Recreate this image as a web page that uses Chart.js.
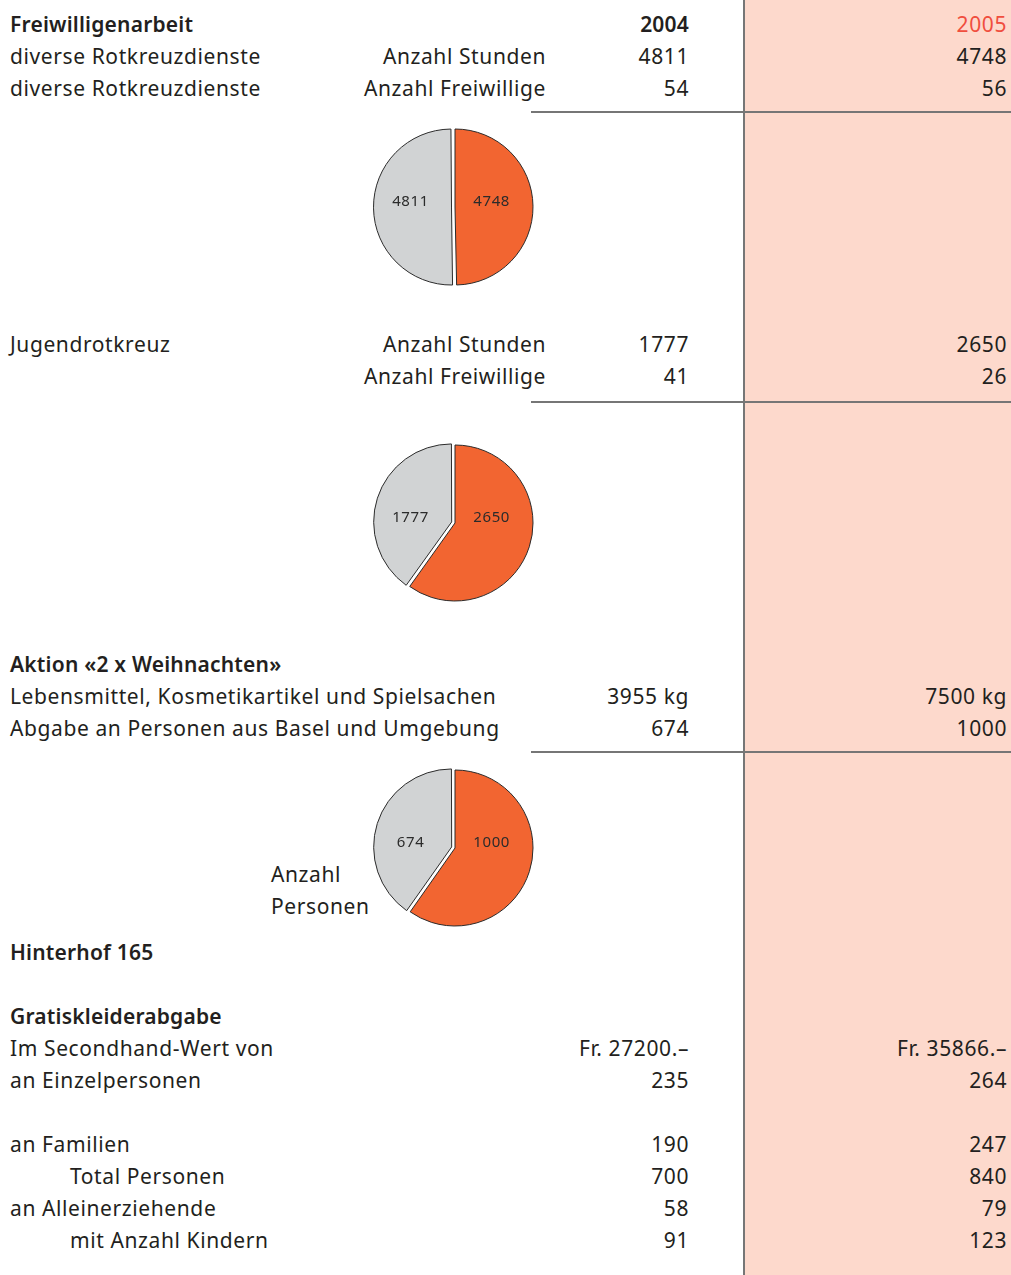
<!DOCTYPE html>
<html><head><meta charset="utf-8">
<script src="https://cdn.jsdelivr.net/npm/chart.js@4.4.0/dist/chart.umd.min.js"></script>
<style>
html,body{margin:0;padding:0;background:#fff;}
#page{position:relative;width:1011px;height:1275px;overflow:hidden;font-family:"Noto Sans",sans-serif;font-size:21px;letter-spacing:0.6px;color:#231f20;}
#pink{position:absolute;left:745px;top:0;width:266px;height:1275px;background:#fdd9cc;}
#vline{position:absolute;left:743px;top:0;width:2px;height:1275px;background:#767676;}
.hline{position:absolute;left:531px;width:480px;height:2px;background:#767676;}
.t{position:absolute;height:32px;line-height:32px;white-space:nowrap;}
.b{font-weight:600;letter-spacing:0.2px;}
.pie{position:absolute;width:200px;height:200px;}
</style></head>
<body><div id="page">
<div id="pink"></div><div id="vline"></div>
</div>
<script>
// ---- data ----
const years = ["2004", "2005"];
const rowLabels = [
 "Freiwilligenarbeit","diverse Rotkreuzdienste","diverse Rotkreuzdienste","","","","","","","",
 "Jugendrotkreuz","","","","","","","","","",
 "Aktion «2 x Weihnachten»","Lebensmittel, Kosmetikartikel und Spielsachen","Abgabe an Personen aus Basel und Umgebung","","","","","","","Hinterhof 165",
 "","Gratiskleiderabgabe","Im Secondhand-Wert von","an Einzelpersonen","","an Familien","Total Personen","an Alleinerziehende","mit Anzahl Kindern"
];
const boldRows = [0, 20, 29, 31];
const indentRows = [36, 38];
const subLabels = {1:"Anzahl Stunden", 2:"Anzahl Freiwillige", 10:"Anzahl Stunden", 11:"Anzahl Freiwillige"};
const values2004 = {1:"4811",2:"54",10:"1777",11:"41",21:"3955 kg",22:"674",32:"Fr. 27200.–",33:"235",35:"190",36:"700",37:"58",38:"91"};
const values2005 = {1:"4748",2:"56",10:"2650",11:"26",21:"7500 kg",22:"1000",32:"Fr. 35866.–",33:"264",35:"247",36:"840",37:"79",38:"123"};
const pieStunden = [4811, 4748];        // 2004, 2005
const pieJugend = [1777, 2650];
const piePersonen = [674, 1000];
const pieNote = ["Anzahl", "Personen"];

// ---- layout ----
const page = document.getElementById('page');
function addText(txt, opts){
  const d = document.createElement('div');
  d.className = 't' + (opts.bold ? ' b' : '');
  d.textContent = txt;
  d.style.top = opts.top + 'px';
  if (opts.left !== undefined) d.style.left = opts.left + 'px';
  if (opts.right !== undefined) { d.style.right = (1011 - opts.right) + 'px'; d.style.textAlign = 'right'; }
  if (opts.color) d.style.color = opts.color;
  page.appendChild(d);
}
const rowTop = i => 24 + i * 32 - 16;
addText(years[0], {top: rowTop(0), right: 689, bold: true});
addText(years[1], {top: rowTop(0), right: 1007, color: '#f04e3e'});
rowLabels.forEach((lab, i) => {
  if (lab) addText(lab, {top: rowTop(i), left: indentRows.includes(i) ? 70 : 10, bold: boldRows.includes(i)});
  if (subLabels[i]) addText(subLabels[i], {top: rowTop(i), right: 546});
  if (values2004[i]) addText(values2004[i], {top: rowTop(i), right: 689});
  if (values2005[i]) addText(values2005[i], {top: rowTop(i), right: 1007});
});
[112, 402, 752].forEach(y => {
  const l = document.createElement('div'); l.className = 'hline'; l.style.top = (y - 1) + 'px'; page.appendChild(l);
});
addText(pieNote[0], {top: 874 - 16, left: 271});
addText(pieNote[1], {top: 906 - 16, left: 271});

// ---- pies ----
const labelPlugin = {
  id: 'sliceLabels',
  afterDatasetUpdate(chart) {
    // keep exploded slice at same radius as the others
    const meta = chart.getDatasetMeta(0);
    meta.data.forEach(arc => {
      const off = (arc.options && arc.options.offset) || 0;
      if (off) {
        const fix = 1 - Math.sin(Math.min(Math.PI, arc.circumference || (arc.endAngle - arc.startAngle)));
        arc.outerRadius = arc.outerRadius - (off / 4) * fix;
      }
    });
  },
  afterDatasetsDraw(chart) {
    const ctx = chart.ctx;
    const meta = chart.getDatasetMeta(0);
    const ds = chart.data.datasets[0];
    ctx.save();
    ctx.font = '15px "Noto Sans", sans-serif';
    ctx.fillStyle = '#2b2b2b';
    ctx.textAlign = 'center';
    ctx.textBaseline = 'middle';
    meta.data.forEach((arc, i) => {
      const mid = (arc.startAngle + arc.endAngle) / 2;
      const side = Math.cos(mid) >= 0 ? 1 : -1;
      const x = arc.x + side * 78 * (side > 0 ? 0.47 : 0.57);
      const y = arc.y - 5;
      ctx.fillText(String(ds.data[i]), x, y);
    });
    ctx.restore();
  }
};
function makePie(values, cx, cy) {
  const c = document.createElement('canvas');
  c.className = 'pie';
  c.width = 200; c.height = 200;
  c.style.left = (cx - 100) + 'px';
  c.style.top = (cy - 100) + 'px';
  page.appendChild(c);
  new Chart(c, {
    type: 'pie',
    data: {
      labels: [years[1], years[0]],
      datasets: [{
        data: [values[1], values[0]],
        backgroundColor: ['#f26531', '#d1d3d4'],
        borderColor: '#2b2b2b',
        borderWidth: 1,
        offset: [0, 14]
      }]
    },
    options: {
      responsive: false,
      animation: false,
      radius: 78,
      layout: {padding: 0},
      plugins: {legend: {display: false}, tooltip: {enabled: false}}
    },
    plugins: [labelPlugin]
  });
}
makePie(pieStunden, 455, 207);
makePie(pieJugend, 455, 523);
makePie(piePersonen, 455, 848);
</script>
</body></html>
